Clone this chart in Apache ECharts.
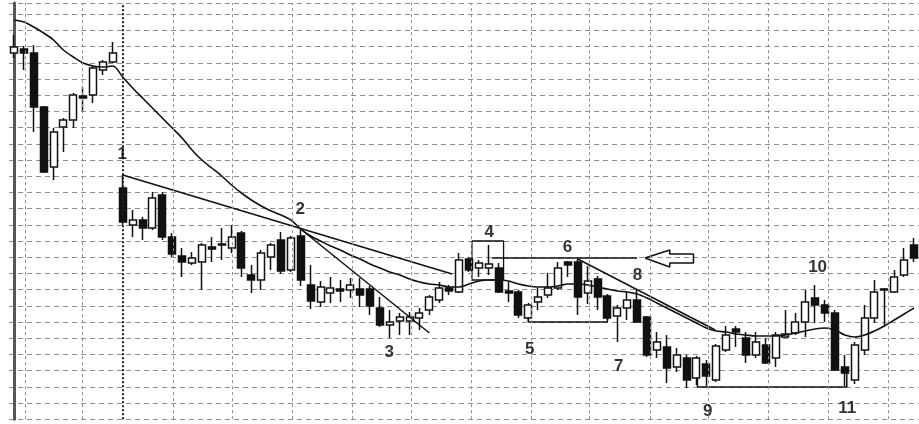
<!DOCTYPE html>
<html><head><meta charset="utf-8">
<script src="https://cdn.jsdelivr.net/npm/echarts@6/dist/echarts.min.js"></script>
<style>html,body{margin:0;padding:0;background:#fff}#c{width:919px;height:424px}</style>
</head><body><div id="c"></div>
<script>
// ---------- data ----------
const sessions = ['1','2','3','4','5','6','7','8','9','10','11','12','13','14','15','16','17','18','19','20',
'21','22','23','24','25','26','27','28','29','30','31','32','33','34','35','36','37','38','39','40',
'41','42','43','44','45','46','47','48','49','50','51','52','53','54','55','56','57','58','59','60',
'61','62','63','64','65','66','67','68','69','70','71','72','73','74','75','76','77','78','79','80',
'81','82','83','84','85','86','87','88','89','90','91','92'];
const opens = [35.0,35.4,35.0,29.6,23.6,27.6,28.3,30.7,30.8,33.3,34.1,
21.5,17.8,18.3,17.5,20.8,16.6,14.7,14.0,14.1,15.6,
15.9,15.5,17.0,12.8,12.3,14.6,16.3,13.3,16.7,11.8,
10.1,11.0,11.4,11.3,11.4,11.4,9.5,7.8,8.2,8.2,
8.5,9.3,10.3,11.5,11.1,14.4,13.5,13.5,13.5,11.2,
11.1,8.5,10.1,10.8,11.5,14.1,14.1,11.0,12.4,10.7,
8.7,9.5,10.3,8.6,5.3,5.6,3.6,4.5,2.5,3.9,
2.3,5.3,7.4,6.5,4.8,5.8,4.5,6.6,7.0,8.1,
10.5,9.8,9.0,3.6,2.3,5.3,8.5,11.4,11.1,12.8,15.8];
const closes = [35.6,35.0,29.6,23.1,27.1,28.3,30.8,30.5,33.5,34.1,35.0,
18.1,18.3,17.5,20.5,16.6,14.9,14.1,14.5,15.8,15.4,
15.8,16.6,13.5,12.3,15.0,15.8,13.2,16.5,12.3,10.2,
11.6,11.5,11.2,11.8,10.8,9.7,7.8,8.1,8.6,8.6,
9.0,10.6,11.5,11.2,14.3,13.3,14.0,13.9,11.1,11.0,
8.8,9.8,10.6,11.5,13.5,13.8,10.6,12.2,10.6,8.5,
9.5,10.3,8.1,4.8,6.1,3.5,4.8,2.3,4.5,2.7,
5.7,6.8,7.1,4.8,6.1,4.0,6.8,6.9,8.1,10.1,
9.8,9.0,3.3,3.0,5.8,8.5,11.1,11.3,12.6,14.3,14.5];
const lows = [34.5,33.3,27.1,23.0,22.3,25.1,27.5,29.1,30.0,32.8,34.0,
17.8,16.6,16.3,17.3,16.3,14.6,12.6,13.8,11.3,14.1,
14.3,15.0,12.6,11.0,11.3,13.3,12.9,13.1,11.7,9.4,
9.6,10.0,10.1,10.5,9.6,8.8,7.6,6.5,6.8,6.8,
7.3,8.8,10.0,10.8,11.0,13.1,12.6,12.8,11.0,10.1,
8.5,8.1,9.3,10.5,11.3,12.6,8.8,9.9,9.3,8.3,
6.1,8.3,8.0,4.6,4.5,2.0,3.1,1.5,1.8,1.7,
2.1,5.1,5.6,4.0,4.5,3.9,3.6,6.5,6.8,6.6,
8.0,8.1,3.2,1.7,1.9,4.8,8.0,7.7,11.0,12.6,14.1];
const highs = [36.8,35.7,35.8,29.7,27.5,28.5,31.0,31.6,33.7,34.3,36.1,
22.8,19.3,18.6,21.1,21.1,17.0,15.5,15.1,16.0,16.6,
17.5,17.8,17.2,13.8,15.3,16.0,17.1,16.7,17.5,13.8,
12.2,12.6,12.3,12.5,12.5,11.7,10.6,9.3,9.0,9.1,
9.5,10.8,12.1,11.8,15.0,14.6,14.3,15.8,14.0,12.1,
11.3,10.0,11.5,13.0,14.1,14.2,14.4,13.7,12.7,10.9,
9.8,11.1,11.3,8.7,7.1,6.8,5.5,4.8,4.7,4.3,
5.9,7.7,7.7,7.1,7.1,6.5,7.1,9.3,9.0,11.3,
11.8,10.3,9.3,4.8,6.1,9.8,12.3,11.5,13.3,15.5,16.5];
const maValues = [38.3,38.1,37.6,37.0,36.3,35.3,34.6,34.0,33.7,33.6,33.7,
32.6,31.5,30.5,29.5,28.5,27.5,26.5,25.3,24.3,23.5,
22.7,21.8,21.0,20.3,19.7,19.2,18.8,18.3,17.4,16.7,
16.2,15.7,15.3,14.8,14.4,13.9,13.5,13.1,12.8,12.4,
12.1,11.9,11.8,11.6,11.6,11.9,12.2,12.3,12.3,12.2,
11.9,11.7,11.6,11.6,11.7,11.9,11.9,11.8,11.6,11.4,
11.2,11.1,10.9,10.5,10.0,9.5,9.0,8.5,8.0,7.5,
7.2,7.1,6.9,6.8,6.7,6.7,6.7,6.8,7.0,7.2,
7.4,7.5,7.3,6.8,6.6,6.8,7.2,7.7,8.3,8.9,9.5];
// annotation lines, [session position, price]
const trendFrom1 = [[11.0,22.8],[44.3,12.9]];
const trendFrom2 = [[29.1,17.3],[42.0,7.0]];
const trendFrom6 = [[57.0,14.4],[70.9,7.3]];
const resistance = [[48.3,14.5],[63.0,14.5]];
const box4 = [[46.3,16.2],[49.5,16.2],[49.5,12.3],[46.3,12.3],[46.3,16.2]];
const bracket5 = [[52.0,8.6],[52.0,8.1],[60.0,8.1],[60.0,8.5]];
const bracket9to11 = [[69.1,2.5],[69.1,1.6],[84.2,1.6],[84.2,3.0]];
const arrowShape = [[63.8,14.5],[66.3,15.3],[66.3,14.9],[68.7,14.9],[68.7,14.0],[66.3,14.0],[66.3,13.6],[63.8,14.5]];
const pointLabels = ['1','2','3','4','5','6','7','8','9','10','11'];
const labelX = [11.0,29.0,38.0,48.1,52.2,56.0,61.2,63.1,70.2,81.3,84.3];
const labelY = [24.8,19.3,5.0,17.0,5.3,15.5,3.6,12.7,-0.9,13.5,-0.6];

// ---------- chart ----------
const candleData = opens.map((o,i)=>[o, closes[i], lows[i], highs[i]]);
const chart = echarts.init(document.getElementById('c'), null, {renderer:'canvas'});
const ink = '#111';
const vGridAt = [1.1,6.9,16.1,22.1,28.1,34.2,40.2,46.2,52.3,58.2,64.3,70.2,76.3,82.3,88.4];
function annot(data, w){
  return {type:'line', xAxisIndex:1, data:data, symbol:'none', silent:true, z:4,
    lineStyle:{color:ink, width:w||1.5}};
}
const option = {
  animation:false,
  backgroundColor:'#fff',
  grid:{left:9, right:0, top:3, bottom:4.8},
  xAxis:[
    {type:'category', data:sessions, boundaryGap:true, show:false},
    {type:'value', min:-0.5, max:91.5, show:false}
  ],
  yAxis:{type:'value', min:-1.62, max:40, interval:1.62, scale:false,
    axisLabel:{show:false}, axisTick:{show:false},
    axisLine:{show:true, lineStyle:{color:'#555', width:3, type:[3,1]}},
    splitLine:{show:true, lineStyle:{color:'#8f8f8f', width:1, type:[5,4]}}},
  series:[
    {type:'candlestick', data:candleData, barWidth:7.5, z:3,
      itemStyle:{color:'#fff', color0:ink, borderColor:ink, borderColor0:ink, borderWidth:1.5}},
    {type:'line', data:maValues, smooth:0.3, symbol:'none', z:4,
      lineStyle:{color:ink, width:1.6}},
    Object.assign(annot(trendFrom1), {markLine:{silent:true, symbol:'none', label:{show:false},
      data: vGridAt.map(v=>({xAxis:v})).concat([{xAxis:11.0, lineStyle:{color:'#222', width:2, type:[2,2]}}]),
      lineStyle:{color:'#8f8f8f', width:1, type:[3,3]}}}),
    annot(trendFrom2),
    annot(trendFrom6),
    annot(resistance),
    annot(box4, 1.3),
    annot(bracket5),
    annot(bracket9to11),
    annot(arrowShape, 1.5),
    {type:'scatter', xAxisIndex:1, symbolSize:1, silent:true, z:6,
      itemStyle:{color:'rgba(0,0,0,0)'},
      data: pointLabels.map((t,i)=>[labelX[i], labelY[i], t]),
      label:{show:true, position:[0,0], align:'center', verticalAlign:'middle', formatter:p=>p.value[2],
        fontFamily:'Liberation Sans, Arial, sans-serif', fontWeight:'bold', fontSize:17,
        color:'#000', textBorderWidth:0}}
  ]
};
chart.setOption(option);
</script></body></html>
